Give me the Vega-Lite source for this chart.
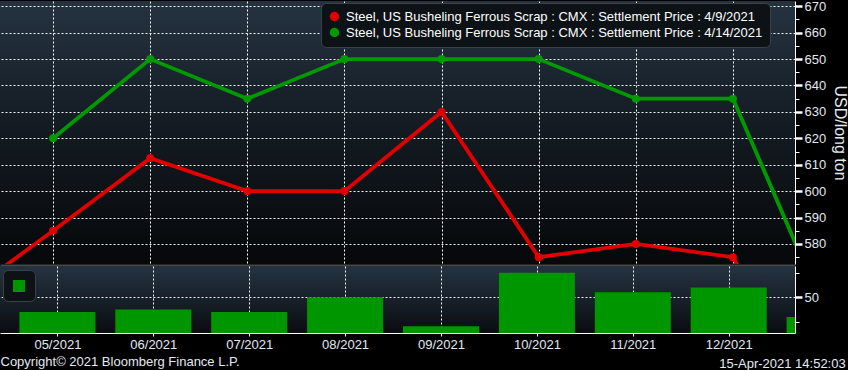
{
  "$schema": "https://vega.github.io/schema/vega-lite/v6.json",
  "background": "#000000",
  "padding": 0,
  "autosize": {"type": "pad"},
  "spacing": 0,
  "datasets": {
    "prices": [
      {"m": 4, "series": "Steel, US Busheling Ferrous Scrap : CMX : Settlement Price : 4/9/2021", "price": 558},
      {"m": 5, "series": "Steel, US Busheling Ferrous Scrap : CMX : Settlement Price : 4/9/2021", "price": 585},
      {"m": 6, "series": "Steel, US Busheling Ferrous Scrap : CMX : Settlement Price : 4/9/2021", "price": 612.5},
      {"m": 7, "series": "Steel, US Busheling Ferrous Scrap : CMX : Settlement Price : 4/9/2021", "price": 600},
      {"m": 8, "series": "Steel, US Busheling Ferrous Scrap : CMX : Settlement Price : 4/9/2021", "price": 600},
      {"m": 9, "series": "Steel, US Busheling Ferrous Scrap : CMX : Settlement Price : 4/9/2021", "price": 630},
      {"m": 10, "series": "Steel, US Busheling Ferrous Scrap : CMX : Settlement Price : 4/9/2021", "price": 575},
      {"m": 11, "series": "Steel, US Busheling Ferrous Scrap : CMX : Settlement Price : 4/9/2021", "price": 580},
      {"m": 12, "series": "Steel, US Busheling Ferrous Scrap : CMX : Settlement Price : 4/9/2021", "price": 575},
      {"m": 13, "series": "Steel, US Busheling Ferrous Scrap : CMX : Settlement Price : 4/9/2021", "price": 510},
      {"m": 5, "series": "Steel, US Busheling Ferrous Scrap : CMX : Settlement Price : 4/14/2021", "price": 620},
      {"m": 6, "series": "Steel, US Busheling Ferrous Scrap : CMX : Settlement Price : 4/14/2021", "price": 650},
      {"m": 7, "series": "Steel, US Busheling Ferrous Scrap : CMX : Settlement Price : 4/14/2021", "price": 635},
      {"m": 8, "series": "Steel, US Busheling Ferrous Scrap : CMX : Settlement Price : 4/14/2021", "price": 650},
      {"m": 9, "series": "Steel, US Busheling Ferrous Scrap : CMX : Settlement Price : 4/14/2021", "price": 650},
      {"m": 10, "series": "Steel, US Busheling Ferrous Scrap : CMX : Settlement Price : 4/14/2021", "price": 650},
      {"m": 11, "series": "Steel, US Busheling Ferrous Scrap : CMX : Settlement Price : 4/14/2021", "price": 635},
      {"m": 12, "series": "Steel, US Busheling Ferrous Scrap : CMX : Settlement Price : 4/14/2021", "price": 635},
      {"m": 13, "series": "Steel, US Busheling Ferrous Scrap : CMX : Settlement Price : 4/14/2021", "price": 550}
    ],
    "volume": [
      {"m": 5, "vol": 44},
      {"m": 6, "vol": 45},
      {"m": 7, "vol": 44},
      {"m": 8, "vol": 50},
      {"m": 9, "vol": 38.2},
      {"m": 10, "vol": 60},
      {"m": 11, "vol": 52},
      {"m": 12, "vol": 54},
      {"m": 13, "vol": 42}
    ]
  },
  "title": {
    "text": "15-Apr-2021 14:52:03",
    "orient": "bottom",
    "anchor": "end",
    "color": "#e4ebf3",
    "font": "Liberation Sans",
    "fontSize": 13,
    "fontWeight": "normal",
    "offset": 0,
    "dy": -10,
    "dx": -2
  },
  "vconcat": [
    {
      "width": 795,
      "height": 263,
      "view": {
        "stroke": null,
        "fill": {
          "gradient": "linear", "x1": 0, "y1": 0, "x2": 0, "y2": 1,
          "stops": [
            {"offset": 0, "color": "#253341"},
            {"offset": 0.5, "color": "#131a21"},
            {"offset": 1, "color": "#06080a"}
          ]
        }
      },
      "data": {"name": "prices"},
      "mark": {"type": "line", "strokeWidth": 3.8, "clip": true, "point": {"filled": true, "size": 64, "opacity": 1}},
      "encoding": {
        "x": {
          "field": "m", "type": "quantitative",
          "scale": {"domain": [4.4536, 12.639], "nice": false, "zero": false},
          "axis": {
            "title": null, "labels": false, "ticks": false,
            "values": [5, 6, 7, 8, 9, 10, 11, 12],
            "grid": true,
            "domainColor": "#4a4a4a", "domainWidth": 4, "offset": 2
          }
        },
        "y": {
          "field": "price", "type": "quantitative",
          "scale": {"domain": [572.4, 672], "nice": false, "zero": false},
          "axis": {
            "orient": "right",
            "title": "USD/long ton",
            "titleFontSize": 16,
            "titlePadding": 6,
            "values": [575, 580, 585, 590, 595, 600, 605, 610, 615, 620, 625, 630, 635, 640, 645, 650, 655, 660, 665, 670],
            "labelExpr": "datum.value % 10 === 0 ? datum.label : ''",
            "grid": true,
            "gridOpacity": {"condition": {"test": "datum.value % 10 === 0", "value": 0.95}, "value": 0},
            "tickSize": {"condition": {"test": "datum.value % 10 === 0", "value": 7}, "value": 4},
            "tickWidth": {"condition": {"test": "datum.value % 10 === 0", "value": 2.5}, "value": 1},
            "labelPadding": 2
          }
        },
        "color": {
          "field": "series", "type": "nominal",
          "scale": {
            "domain": [
              "Steel, US Busheling Ferrous Scrap : CMX : Settlement Price : 4/9/2021",
              "Steel, US Busheling Ferrous Scrap : CMX : Settlement Price : 4/14/2021"
            ],
            "range": ["#e00000", "#009a00"]
          },
          "legend": {
            "title": null,
            "orient": "none",
            "legendX": 321,
            "legendY": 2,
            "direction": "vertical",
            "fillColor": "#0d1216",
            "strokeColor": "#3a4046",
            "cornerRadius": 5,
            "padding": 7,
            "symbolType": "circle",
            "symbolSize": 64,
            "labelColor": "#ffffff",
            "labelFont": "Liberation Sans",
            "labelFontSize": 13,
            "labelLimit": 600,
            "labelOffset": 5,
            "rowPadding": 1
          }
        }
      }
    },
    {
      "width": 795,
      "height": 67,
      "view": {
        "stroke": null,
        "fill": {
          "gradient": "linear", "x1": 0, "y1": 0, "x2": 0, "y2": 1,
          "stops": [
            {"offset": 0, "color": "#253341"},
            {"offset": 1, "color": "#0a0d11"}
          ]
        }
      },
      "data": {"name": "volume"},
      "mark": {"type": "bar", "size": 76, "clip": true},
      "encoding": {
        "x": {
          "field": "m", "type": "quantitative",
          "scale": {"domain": [4.4536, 12.639], "nice": false, "zero": false},
          "axis": {
            "title": "Copyright© 2021 Bloomberg Finance L.P.",
            "titleAnchor": "start",
            "titleFontSize": 13,
            "titlePadding": 4,
            "values": [5, 6, 7, 8, 9, 10, 11, 12],
            "labelExpr": "(datum.value < 10 ? '0' : '') + datum.value + '/2021'",
            "grid": true,
            "tickSize": 3,
            "labelPadding": 2
          }
        },
        "y": {
          "field": "vol", "type": "quantitative",
          "scale": {"domain": [35.5, 62.7], "nice": false, "zero": false},
          "axis": {
            "orient": "right",
            "title": null,
            "values": [40, 50, 60],
            "labelExpr": "datum.value === 50 ? datum.label : ''",
            "grid": true,
            "gridOpacity": {"condition": {"test": "datum.value === 50", "value": 0.95}, "value": 0},
            "tickSize": {"condition": {"test": "datum.value === 50", "value": 7}, "value": 4},
            "tickWidth": {"condition": {"test": "datum.value === 50", "value": 2.5}, "value": 1},
            "labelPadding": 2
          }
        },
        "color": {
          "datum": "Volume",
          "scale": {"range": ["#009600"]},
          "legend": {
            "title": null,
            "orient": "none",
            "legendX": 3,
            "legendY": 4,
            "fillColor": "#0d1216",
            "strokeColor": "#3a4046",
            "cornerRadius": 5,
            "padding": 9,
            "symbolType": "square",
            "symbolSize": 144,
            "labelExpr": "''",
            "labelOffset": 0,
            "labelLimit": 1
          }
        }
      }
    }
  ],
  "resolve": {"scale": {"x": "independent", "color": "independent"}, "legend": {"color": "independent"}},
  "config": {
    "font": "Liberation Sans",
    "concat": {"spacing": 0},
    "axis": {
      "labelFont": "Liberation Sans",
      "labelFontSize": 13,
      "labelColor": "#e2e9f1",
      "titleFont": "Liberation Sans",
      "titleFontWeight": "normal",
      "titleColor": "#e2e9f1",
      "domainColor": "#ffffff",
      "tickColor": "#ffffff",
      "gridColor": "#ffffff",
      "gridDash": [2, 2],
      "gridWidth": 1
    }
  }
}
